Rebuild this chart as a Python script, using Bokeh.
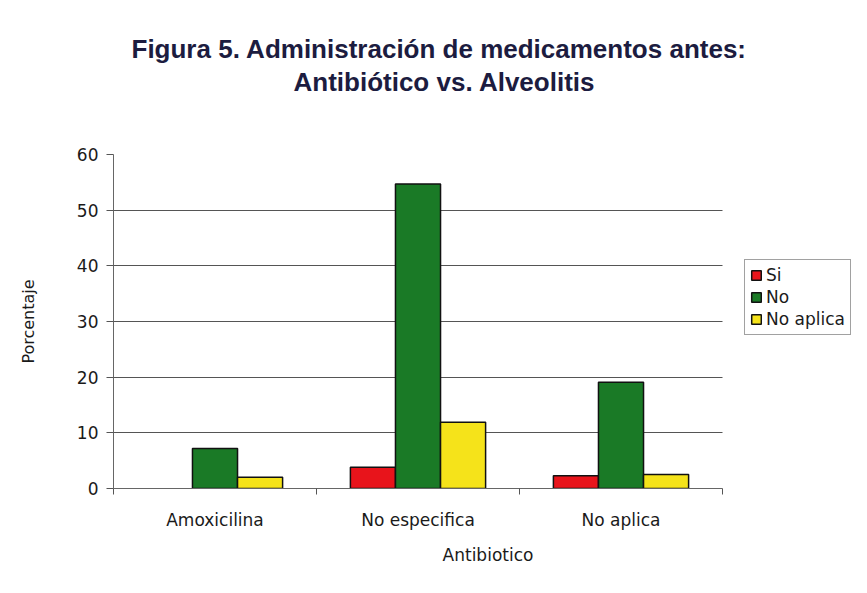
from bokeh.plotting import figure
from bokeh.models import FixedTicker, Legend, LegendItem, ColumnDataSource, Range1d, Title
from bokeh.embed import file_html
from bokeh.resources import INLINE

categories = ["Amoxicilina", "No especifica", "No aplica"]
series = ["Si", "No", "No aplica"]
si = [0.0, 3.8, 2.3]
no = [7.2, 54.7, 19.1]
no_aplica = [2.0, 11.9, 2.5]
colors = ["#e8141b", "#1a7a26", "#f5e31a"]
y_ticks = [0, 10, 20, 30, 40, 50, 60]
title_lines = ["Figura 5. Administración de medicamentos antes:", "Antibiótico vs. Alveolitis"]

TFONT = "Liberation Sans"
FONT = "DejaVu Sans"

# frame spans 113..862 px; the bar area spans 113..722 px
n = len(categories)
x_end = n * (862 - 113) / (722 - 113)

p = figure(width=867, height=593, output_backend="svg", toolbar_location=None,
           x_range=Range1d(0, x_end), y_range=Range1d(0, 60),
           min_border_left=113, min_border_right=5, min_border_top=154,
           min_border_bottom=105, background_fill_color="white",
           border_fill_color="white", outline_line_color=None)

def style_title(t, offset, standoff):
    t.align = "left"
    t.text_font = TFONT
    t.text_font_size = "26px"
    t.text_font_style = "bold"
    t.text_color = "#1c1c40"
    t.offset = offset
    t.standoff = standoff

p.title.text = title_lines[0]
style_title(p.title, 18, 0)
spacer = Title(text=" ")
style_title(spacer, 0, 25)
p.add_layout(spacer, "above")
t2 = Title(text=title_lines[1])
style_title(t2, 180, 2)
p.add_layout(t2, "above")

bw = 0.222
offsets = [-bw, 0.0, bw]
renderers = []
for vals, off, col, name in zip([si, no, no_aplica], offsets, colors, series):
    src = ColumnDataSource(dict(x=[i + 0.5 + off for i in range(n)], top=vals,
                                lc=["#111111" if v > 0 else None for v in vals]))
    r = p.vbar(x="x", top="top", width=bw, bottom=0, source=src, fill_color=col,
               line_color="lc", line_width=1.5)
    renderers.append((name, r))

p.xaxis.ticker = FixedTicker(ticks=[i + 0.5 for i in range(n)],
                             minor_ticks=list(range(n + 1)))
p.xaxis.bounds = (0, n)
p.xaxis.major_label_overrides = {i + 0.5: c for i, c in enumerate(categories)}
p.xaxis.major_tick_line_color = None
p.xaxis.major_tick_out = 0
p.xaxis.minor_tick_out = 6
p.xaxis.minor_tick_in = 0
p.xaxis.minor_tick_line_color = "#555555"
p.xaxis.major_label_standoff = 15
p.xaxis.axis_label = "Antibiotico"
p.xaxis.axis_label_standoff = 12

p.yaxis.ticker = FixedTicker(ticks=y_ticks)
p.yaxis.minor_tick_line_color = None
p.yaxis.major_tick_out = 7
p.yaxis.major_tick_in = 0
p.yaxis.major_tick_line_color = "#555555"
p.yaxis.axis_label = "Porcentaje"
p.yaxis.axis_label_standoff = 36
p.yaxis.major_label_standoff = 8

for ax in (p.xaxis, p.yaxis):
    ax.axis_line_color = "#666666"
    ax.major_label_text_font = FONT
    ax.major_label_text_font_size = "17px"
    ax.major_label_text_color = "#1a1a1a"
    ax.axis_label_text_font = FONT
    ax.axis_label_text_font_size = "16px"
    ax.axis_label_text_font_style = "normal"
    ax.axis_label_text_color = "#1a1a1a"
p.xaxis.axis_label_text_font_size = "17px"

p.xgrid.grid_line_color = None
p.ygrid.grid_line_color = "#555555"
p.ygrid.grid_line_width = 1
p.ygrid.cross_bounds = (0, n)

legend = Legend(items=[LegendItem(label=nm, renderers=[r], index=1) for nm, r in renderers],
                location=(631, 153), orientation="vertical")
legend.label_text_font = FONT
legend.label_text_font_size = "17px"
legend.label_text_color = "#1a1a1a"
legend.glyph_width = 12
legend.glyph_height = 12
legend.label_standoff = 4
legend.spacing = 2
legend.padding = 5
legend.margin = 0
legend.border_line_color = "#444444"
legend.border_line_width = 1
legend.background_fill_color = "white"
legend.label_height = 20
p.add_layout(legend)

open("out.html", "w").write(file_html(p, INLINE))
